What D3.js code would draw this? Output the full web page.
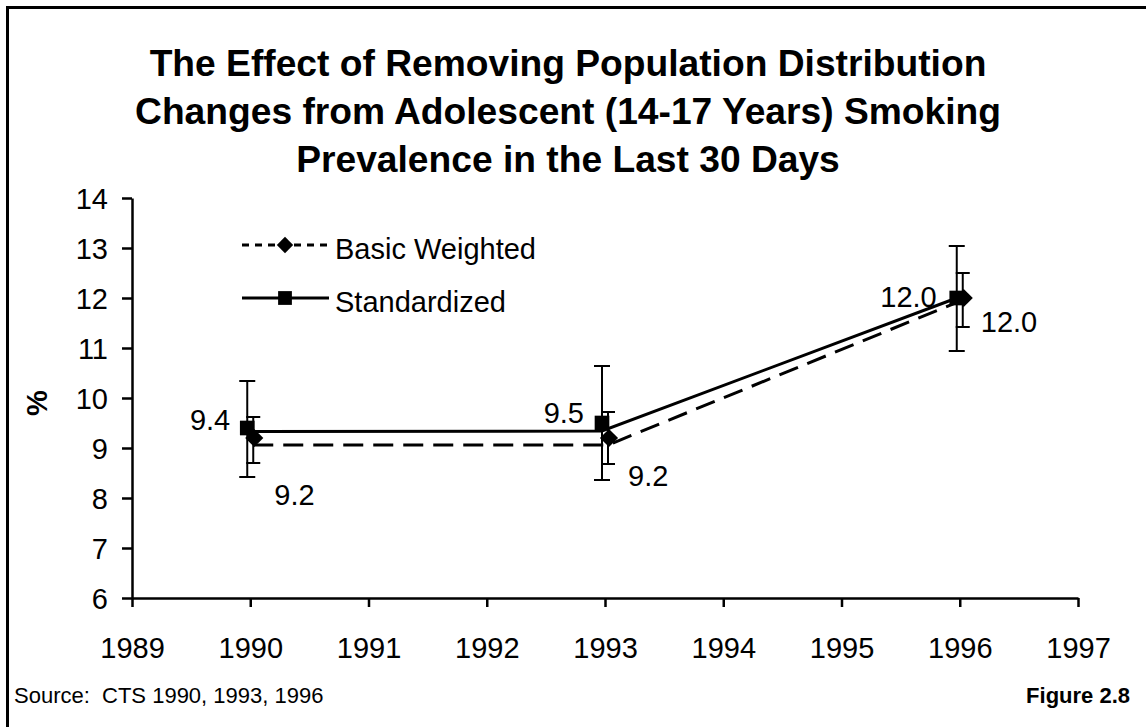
<!DOCTYPE html>
<html>
<head>
<meta charset="utf-8">
<script src="https://cdn.jsdelivr.net/npm/d3@7"></script>
<style>
  html, body { margin: 0; padding: 0; background: #fff; }
  svg { display: block; }
  text { font-family: "Liberation Sans", Arial, sans-serif; fill: #000; }
</style>
</head>
<body>
<svg id="chart" width="1146" height="727"></svg>
<script>
// ---------------- data ----------------
const titleLines = [
  "The Effect of Removing Population Distribution",
  "Changes from Adolescent (14-17 Years) Smoking",
  "Prevalence in the Last 30 Days"
];
const years = [1990, 1993, 1996];
const xTicks = [1989, 1990, 1991, 1992, 1993, 1994, 1995, 1996, 1997];
const yTicks = [6, 7, 8, 9, 10, 11, 12, 13, 14];

// marker values
const basicWeighted = [9.2, 9.2, 12.0];
const standardized  = [9.4, 9.5, 12.0];
const basicLabels = ["9.2", "9.2", "12.0"];
const stdLabels   = ["9.4", "9.5", "12.0"];

// connecting lines as drawn in the picture
const basicLine = [9.06, 9.06, 11.96];
const stdLine   = [9.33, 9.34, 12.0];

// error bars (upper / lower limits)
const basicUpper = [9.62, 9.72, 12.5];
const basicLower = [8.70, 8.68, 11.42];
const stdUpper   = [10.34, 10.64, 13.04];
const stdLower   = [8.42, 8.36, 10.94];

const seriesNames = ["Basic Weighted", "Standardized"];
const yAxisLabel = "%";
const sourceText = "Source:  CTS 1990, 1993, 1996";
const figureText = "Figure 2.8";

// ---------------- layout ----------------
const svg = d3.select("#chart");
const FONT = 29;
const x = d3.scaleLinear().domain([1989, 1997]).range([132, 1078]);
const y = d3.scaleLinear().domain([6, 14]).range([598, 198]);
const stdDx = -3, basicDx = 3;

// border
svg.append("rect").attr("x", 7.5).attr("y", 7.5).attr("width", 1160).attr("height", 740)
  .attr("fill", "none").attr("stroke", "#000").attr("stroke-width", 3);

// title
svg.append("g").selectAll("text").data(titleLines).join("text")
  .attr("x", 568).attr("y", (d, i) => 76 + i * 48)
  .attr("text-anchor", "middle").attr("font-weight", "bold").attr("font-size", 37.2)
  .text(d => d);

// axes
const xAxis = d3.axisBottom(x).tickValues(xTicks).tickFormat(d3.format("d"))
  .tickSize(9).tickSizeOuter(0).tickPadding(30);
const gx = svg.append("g").attr("transform", `translate(0,${y(6)})`).call(xAxis);
gx.select(".domain").attr("stroke-width", 2.5);
gx.selectAll(".tick line").attr("stroke-width", 2.5);
gx.selectAll(".tick text").attr("font-size", FONT).attr("font-family", "Liberation Sans, Arial, sans-serif")
  .attr("dy", "0.72em");

const yAxis = d3.axisLeft(y).tickValues(yTicks).tickFormat(d3.format("d"))
  .tickSize(10).tickSizeOuter(0).tickPadding(14);
const gy = svg.append("g").attr("transform", `translate(${x(1989)},0)`).call(yAxis);
gy.select(".domain").attr("stroke-width", 2.5);
gy.selectAll(".tick line").attr("stroke-width", 2.5);
gy.selectAll(".tick text").attr("font-size", FONT).attr("font-family", "Liberation Sans, Arial, sans-serif")
  .attr("dy", "0.36em");

// y axis label
svg.append("text").attr("transform", "translate(47,403) rotate(-90)")
  .attr("text-anchor", "middle").attr("font-weight", "bold").attr("font-size", FONT)
  .text(yAxisLabel);

// error bars
function errorBars(upper, lower, dx, half) {
  const g = svg.append("g").attr("stroke", "#000").attr("stroke-width", 2).attr("fill", "none");
  years.forEach((yr, i) => {
    const cx = x(yr) + dx;
    g.append("line").attr("x1", cx).attr("x2", cx).attr("y1", y(upper[i])).attr("y2", y(lower[i]));
    g.append("line").attr("x1", cx - half).attr("x2", cx + half).attr("y1", y(upper[i])).attr("y2", y(upper[i]));
    g.append("line").attr("x1", cx - half).attr("x2", cx + half).attr("y1", y(lower[i])).attr("y2", y(lower[i]));
  });
}
errorBars(stdUpper, stdLower, stdDx, 8);
errorBars(basicUpper, basicLower, basicDx, 7);

// lines
const lineGen = dx => d3.line().x((d, i) => x(years[i]) + dx).y(d => y(d));
svg.append("path").datum(basicLine).attr("d", lineGen(basicDx))
  .attr("fill", "none").attr("stroke", "#000").attr("stroke-width", 3)
  .attr("stroke-dasharray", "20,10");
svg.append("path").datum(stdLine).attr("d", lineGen(stdDx))
  .attr("fill", "none").attr("stroke", "#000").attr("stroke-width", 3);

// markers
const diamond = d3.symbol().type(d3.symbolDiamond2).size(210);
const square = d3.symbol().type(d3.symbolSquare).size(215);
svg.append("g").selectAll("path").data(basicWeighted).join("path")
  .attr("d", diamond)
  .attr("transform", (d, i) => `translate(${x(years[i]) + 4},${y(d)})`)
  .attr("fill", "#000");
svg.append("g").selectAll("path").data(standardized).join("path")
  .attr("d", square)
  .attr("transform", (d, i) => `translate(${x(years[i]) + stdDx},${y(d)})`)
  .attr("fill", "#000");

// data labels (nudges relative to each marker)
const stdNudge = [[-17, 2], [-18, 0], [-20, 9]];
const basicNudge = [[20, 67], [19, 48], [17, 34]];
svg.append("g").selectAll("text").data(standardized).join("text")
  .attr("x", (d, i) => x(years[i]) + stdDx + stdNudge[i][0])
  .attr("y", (d, i) => y(d) + stdNudge[i][1])
  .attr("text-anchor", "end").attr("font-size", FONT)
  .text((d, i) => stdLabels[i]);
svg.append("g").selectAll("text").data(basicWeighted).join("text")
  .attr("x", (d, i) => x(years[i]) + 4 + basicNudge[i][0])
  .attr("y", (d, i) => y(d) + basicNudge[i][1])
  .attr("text-anchor", "start").attr("font-size", FONT)
  .text((d, i) => basicLabels[i]);

// legend
const leg = svg.append("g");
const legRows = [
  { name: seriesNames[0], dash: "7,6", kind: "diamond", ly: 245 },
  { name: seriesNames[1], dash: null, kind: "square", ly: 298 }
];
legRows.forEach(r => {
  leg.append("line").attr("x1", 242).attr("x2", 329).attr("y1", r.ly).attr("y2", r.ly)
    .attr("stroke", "#000").attr("stroke-width", 3)
    .attr("stroke-dasharray", r.dash);
  const sym = r.kind === "diamond"
    ? d3.symbol().type(d3.symbolDiamond2).size(170)()
    : d3.symbol().type(d3.symbolSquare).size(190)();
  leg.append("path").attr("d", sym)
    .attr("transform", `translate(285,${r.ly})`).attr("fill", "#000");
  leg.append("text").attr("x", 335).attr("y", r.ly + 14).attr("font-size", FONT).text(r.name);
});

// footer
svg.append("text").attr("x", 14).attr("y", 703).attr("font-size", 22)
  .style("white-space", "pre").attr("xml:space", "preserve").text(sourceText);
svg.append("text").attr("x", 1130).attr("y", 703).attr("font-size", 22).attr("font-weight", "bold")
  .attr("text-anchor", "end").text(figureText);
</script>
</body>
</html>
